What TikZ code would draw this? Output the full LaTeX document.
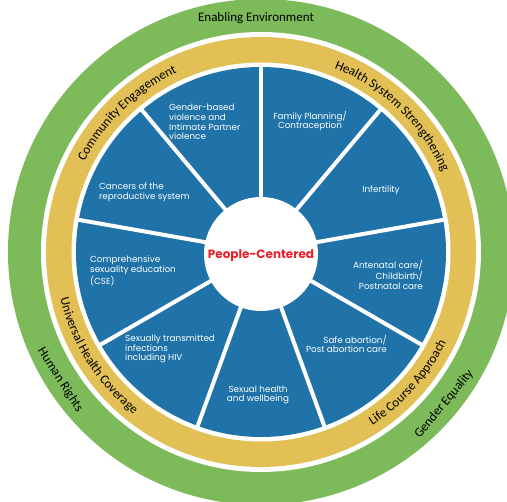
\documentclass[tikz,border=0pt]{standalone}
\usepackage{fontspec}
\setmainfont{Carlito}
\newfontfamily\wheelfont{Poppins}
\usepackage{tikz}
\usetikzlibrary{decorations.text}
\definecolor{ColOuter}{RGB}{125,186,90}
\definecolor{ColBand}{RGB}{226,192,86}
\definecolor{ColWheel}{RGB}{31,115,168}
\definecolor{ColCentre}{RGB}{232,32,40}

\begin{document}
\begin{tikzpicture}[
  x=1pt, y=1pt,
  every node/.style={inner sep=0pt},
  seglabel/.style={font=\wheelfont\fontsize{8.8}{9.6}\selectfont, text=white},
  ringlabel/.style={font=\fontsize{13}{15}\selectfont},
  arclabel/.style={decorate, decoration={text along path, text align=center,
    text={|\fontsize{13}{15}\selectfont|#1}}}
]
  \clip (-261,-250) rectangle (246,252);
  \fill[white] (-261,-250) rectangle (246,252);

  % Rings, outside in
  \fill[ColOuter] (0,0) circle (253);
  \fill[white]    (0,0) circle (220);
  \fill[ColBand]  (0,0) circle (215);
  \fill[white]    (0,0) circle (189.5);
  \fill[ColWheel] (0,0) circle (185);

  % Nine spokes
  \foreach \a in {10,50,...,330}
    \draw[white, line width=4pt] (\a:50) -- (\a:188);

  % Hub
  \fill[white] (0,-2) circle (57);
  \node[font=\wheelfont\bfseries\fontsize{12}{14}\selectfont, text=ColCentre] (hub) at (0,-4) {People-Centered};

  % Segment labels
  \node[seglabel, align=left, anchor=west]   (gbv)    at (-92,130)  {Gender-based\\violence and\\Intimate Partner\\violence};
  \node[seglabel, align=center]              (fp)     at (49,131)   {Family Planning/\\Contraception};
  \node[seglabel]                            (infert) at (120,62)   {Infertility};
  \node[seglabel, align=right, anchor=east]  (anc)    at (162,-23)  {Antenatal care/\\Childbirth/\\Postnatal care};
  \node[seglabel, align=right, anchor=east]  (safe)   at (126,-92)  {Safe abortion/\\Post abortion care};
  \node[seglabel, align=center]              (shw)    at (-3,-143)  {Sexual health\\and wellbeing};
  \node[seglabel, align=left, anchor=west]   (sti)    at (-136,-97) {Sexually transmitted\\infections\\including HIV};
  \node[seglabel, align=left, anchor=west]   (cse)    at (-171,-19) {Comprehensive\\sexuality education\\(CSE)};
  \node[seglabel, align=left, anchor=west]   (cancer) at (-162,60)  {Cancers of the\\reproductive system};

  % Middle band, curved
  \path[arclabel={Community Engagement}]        (174:198) arc[start angle=174, end angle=94, radius=198];
  \path[arclabel={Health System Strengthening}] (87:198) arc[start angle=87, end angle=5, radius=198];
  \path[arclabel={Universal Health Coverage}]   (172.5:206) arc[start angle=172.5, end angle=252.5, radius=206];
  \path[arclabel={Life Course Approach}]        (-81.6:206) arc[start angle=-81.6, end angle=-1.6, radius=206];

  % Outer band
  \node[ringlabel, anchor=base] (enab)   at (-5,230)      {Enabling Environment};
  \node[ringlabel, rotate=-57.5] (rights) at (212.5:238)  {Human Rights};
  \node[ringlabel, rotate=50.3]  (equal)  at (-39.7:238)  {Gender Equality};
\end{tikzpicture}
\end{document}
